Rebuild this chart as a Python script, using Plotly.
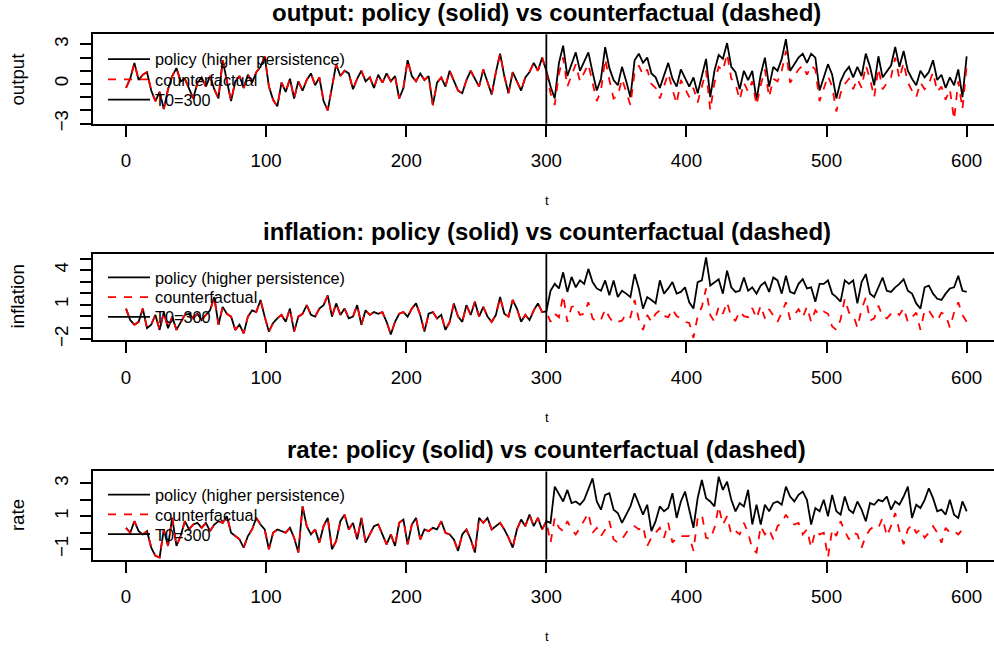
import plotly.graph_objects as go

# time index (sampled every 3 periods) and treatment date
T0 = 300
t_pre = list(range(0, 300, 3))
t_post = list(range(300, 601, 3))

# ---- output ----
output_pre = [
    -0.3, 0.4, 1.6, 0.3, 0.7, 0.9, -0.5, -1.3, -0.6, -1.9,
    -0.4, 0.6, 1.2, 0.2, 0.4, -0.3, -1.1, 0.1, 0.5, -0.2,
    0.6, -0.4, -1.1, 1.8, 0.3, -1.3, 0.2, 0.6, -0.3, 0.7,
    0.1, 0.9, 1.3, 2.1, -0.2, -1.2, -1.7, 0.1, -0.6, 0.4,
    -1.1, 0.2, -0.5, 0.3, 0.8, -0.1, 0.5, -1.3, -2.0, -0.3,
    1.5, 0.6, 1.0, 0.8, -0.4, 0.4, 1.0, 0.2, 0.5, -0.3,
    0.7, 0.1, 0.8, 0.2, 0.6, -1.1, -0.3, 1.8, 0.6, 0.2,
    0.8, 0.3, 0.6, -1.6, 0.1, 0.5, -0.2, 1.0, 0.2, -0.5,
    -0.7, 0.3, 1.0, 0.4, -0.2, 1.1, 0.2, -0.8, 0.9, 2.3,
    0.6, -0.7, 0.9, 0.2, -0.5, 0.5, 0.9, 1.6, 1.0, 2.0,
]
output_policy_post = [
    1.0, -0.2, -1.1, 1.6, 2.9, 0.6, 1.5, 2.4, 1.0, 1.7,
    2.4, 0.9, -0.5, 0.4, 2.8, 1.2, 0.3, -0.1, 1.3, 0.2,
    -1.0, 1.8, 2.3, 1.6, 2.0, 0.8, 0.5, -0.3, 0.6, 1.6,
    0.4, -0.2, 1.1, 0.5, -0.2, 0.5, -0.7, 0.6, 1.9, -1.0,
    1.0, 2.2, 1.9, 3.1, 1.3, 0.9, -0.4, 1.0, 0.3, 1.0,
    -1.2, 0.7, 2.0, -0.2, 1.3, 1.0, 1.9, 3.4, 1.0, 1.5,
    2.0, 2.3, 1.6, 2.3, 2.0, -0.5, 0.5, 1.5, 0.7, -1.1,
    0.2, 0.9, 1.3, 0.5, 1.3, 0.6, 2.3, 1.3, -0.1, 2.1,
    0.5, 1.0, 1.4, 2.8, 1.3, 2.5, 1.0, 0.4, -0.1, 1.0,
    0.5, 0.9, 1.8, 0.3, 0.7, -0.3, 0.5, -0.1, 1.1, -1.0,
    2.1,
]
output_cf_post = [
    0.9, -0.7, -1.6, 0.8, 2.0, -0.2, 0.6, 1.5, 0.2, 0.9,
    1.5, 0.1, -1.3, -0.5, 1.9, 0.3, -1.1, -0.9, 0.4, -0.6,
    -1.6, 0.9, 1.4, 0.7, 1.1, 0.0, -0.3, -1.1, -0.2, 0.8,
    -0.4, -1.5, 0.3, -0.3, -1.0, -0.3, -1.4, -0.2, 1.0, -2.0,
    0.1, 1.3, 1.0, 2.3, 0.4, 0.0, -1.2, 0.1, -0.6, 0.2,
    -1.6, -0.1, 1.1, -1.0, 0.4, 0.2, 1.0, 2.5, 0.1, 0.6,
    1.1, 1.4, 0.7, 1.4, 1.1, -1.3, -0.4, 0.6, -0.2, -2.1,
    -0.7, 0.0, 0.4, -0.4, 0.4, -0.3, 1.4, 0.4, -1.0, 1.2,
    -0.4, 0.1, 0.5, 2.0, 0.4, 1.6, 0.1, -0.5, -1.0, 0.1,
    -0.4, 0.0, 0.9, -0.6, -0.2, -1.2, -0.4, -2.7, 0.2, -1.9,
    1.4,
]

# ---- inflation ----
inflation_pre = [
    0.65, -0.35, -0.75, -0.5, 0.65, -1.05, -0.75, 0.1, -1.2, 0.35,
    -1.05, -0.05, -1.2, -0.5, 0.1, 0.2, -0.2, 0.2, -0.35, 0.1,
    0.5, 1.65, -0.75, 0.8, 0.2, -0.05, -1.2, -0.75, -1.5, -0.05,
    0.5, 0.35, 1.4, -0.05, -1.35, -0.6, -0.2, 0.1, -0.5, 0.65,
    -1.35, -0.05, 0.2, 0.95, 0.1, -0.05, 0.65, 0.95, 1.8, -0.05,
    1.1, 0.1, 0.65, -0.2, -0.05, 0.95, -0.75, 0.5, 0.1, 0.35,
    0.2, 0.35, -0.5, -1.6, -0.5, 0.2, 0.35, -0.05, 0.65, 1.1,
    0.1, -1.35, 0.2, 0.35, -0.2, 0.1, -1.2, -0.5, 1.1, -0.05,
    -0.5, 0.95, 0.1, 1.25, -0.05, 0.8, -0.05, -0.5, 0.1, 1.65,
    0.2, -0.05, 1.4, 0.65, -0.5, 0.1, -0.35, 0.5, 1.1, 0.35,
]
inflation_policy_post = [
    0.4, 2.2, 2.8, 2.4, 3.8, 2.1, 3.4, 2.5, 3.1, 2.8,
    4.1, 2.95, 2.4, 2.2, 3.1, 1.8, 3.1, 1.65, 2.2, 1.95,
    1.65, 3.65, 2.4, 0.65, 1.65, 1.4, 1.1, 3.1, 1.95, 2.4,
    2.95, 1.95, 2.1, 2.5, 1.2, 0.65, 2.95, 3.1, 5.1, 2.65,
    2.95, 3.2, 1.95, 3.95, 2.5, 2.1, 2.2, 3.35, 2.2, 2.5,
    1.95, 2.65, 2.95, 2.1, 3.35, 3.1, 1.95, 3.5, 2.1, 1.95,
    2.8, 3.2, 2.4, 2.5, 1.25, 2.8, 2.8, 3.1, 1.95, 1.65,
    1.25, 3.1, 2.8, 3.1, 1.1, 2.95, 3.65, 1.95, 1.65, 2.5,
    3.35, 2.2, 2.1, 2.5, 2.8, 3.2, 2.2, 1.95, 1.1, 0.65,
    2.5, 2.65, 1.95, 1.5, 1.4, 1.95, 2.4, 2.5, 3.5, 2.2,
    2.1,
]
inflation_cf_post = [
    0.4, -0.5, 0.2, -0.1, 1.8, -0.5, 0.8, 0.9, 0.1, 0.2,
    1.2, -0.2, -0.5, -0.3, 0.6, -0.1, -0.6, -0.5, -0.4, 0.2,
    -0.1, 1.4, -0.3, -1.2, 0.1, -0.5, 0.2, 0.5, 0.0, -0.1,
    0.6, 0.0, -0.2, -0.5, -0.6, -1.9, 0.0, 0.8, 2.4, 0.1,
    -0.5, 0.8, 0.2, 1.2, -0.1, -0.4, 0.4, 0.0, -0.1, 0.7,
    -0.2, 0.9, -0.2, 0.6, 0.0, -0.5, 0.3, 1.2, -0.3, 0.1,
    0.6, -0.1, 0.8, -0.5, 0.5, 0.1, 0.4, 0.2, -0.9, -1.2,
    -0.3, 1.5, 0.3, 0.1, -1.0, 0.6, 1.6, -0.4, -0.2, 0.9,
    0.0, -0.2, 0.2, 0.4, 0.1, 0.7, -0.5, -0.1, 0.3, -1.2,
    0.5, 0.5, -0.1, -0.4, 0.3, 0.1, -1.0, 0.3, 1.2, 0.1,
    -0.5,
]

# ---- rate ----
rate_pre = [
    0.3, 0.0, 0.7, 0.1, -0.1, 0.1, -0.9, -1.4, -1.5, 0.2,
    -0.8, 0.9, -0.8, -0.2, 0.7, 0.2, 0.5, 0.6, 0.3, 0.6,
    0.1, 0.5, 0.7, 0.6, 1.0, 0.0, -0.2, -0.4, -0.9, -0.2,
    0.2, 0.9, 0.5, 0.2, -1.0, 0.0, 0.2, 0.1, 0.0, 0.3,
    -0.3, -1.2, 1.6, 0.4, -0.1, 0.2, -0.6, 0.4, 0.9, -1.0,
    -0.5, 0.7, 1.1, 0.2, 0.6, -0.4, 0.9, -0.6, -0.1, 0.4,
    0.5, -0.1, -0.7, -0.1, -0.8, 0.6, 0.8, -0.7, 0.5, 0.9,
    -0.4, 0.2, 0.1, 0.3, 0.2, 0.7, 0.0, -0.1, -0.4, -1.1,
    -0.1, 0.2, -0.4, -1.2, 0.9, 0.6, 0.9, 0.2, 0.4, 0.6,
    0.2, -0.3, -0.9, 0.2, 0.8, 0.4, 1.1, 0.4, 0.9, 0.2,
]
rate_policy_post = [
    0.7, 0.6, 2.8, 2.3, 1.9, 2.6, 1.8, 1.9, 1.7, 2.0,
    2.7, 3.3, 1.9, 1.4, 2.3, 2.4, 1.4, 1.2, 0.6, 1.1,
    1.6, 2.4, 1.7, 1.1, 1.7, 0.1, 0.7, 1.6, 1.3, 1.5,
    2.4, 0.9, 1.9, 2.5, 1.4, 0.3, 2.1, 3.2, 2.1, 1.9,
    1.6, 3.4, 2.6, 3.1, 2.0, 1.3, 1.8, 1.6, 2.6, 0.5,
    1.7, 0.5, 1.7, 1.3, 1.8, 1.9, 1.7, 2.8, 2.2, 1.9,
    2.3, 2.5, 2.0, 0.5, 1.5, 1.3, 2.0, 1.0, 2.3, 1.3,
    1.1, 2.2, 1.4, 1.2, 1.9, 1.4, 0.7, 1.8, 1.7, 2.0,
    1.9, 2.2, 1.4, 1.9, 1.7, 2.2, 2.8, 0.9, 1.7, 1.5,
    2.0, 2.7, 2.1, 1.3, 1.4, 1.1, 2.0, 1.1, 0.9, 1.9,
    1.3,
]
rate_cf_post = [
    0.7, -0.6, 0.9, 0.3, 0.1, 0.7, 0.2, -0.1, 0.3, 0.8,
    1.2, 0.0, 0.3, -0.2, 0.2, 0.7, -0.4, -0.6, -0.4, 0.0,
    0.3, 0.4, 0.2, 0.4, -0.8, -0.3, 0.0, 0.3, -0.3, 0.6,
    -0.6, -0.3, -0.2, -0.2, -0.2, -1.1, 0.9, 1.1, -0.3, -0.4,
    0.3, 1.6, 0.5, 1.0, -0.1, 0.1, -0.1, 0.6, 0.0, -1.0,
    -1.2, 0.4, -0.1, 0.2, -0.4, 0.4, 0.6, 1.1, 0.7, 0.5,
    0.6, -0.1, 0.2, -0.9, 0.1, -0.1, 0.0, -1.5, 0.2, -0.2,
    0.7, 0.1, -0.4, 0.0, -0.1, -0.9, -0.2, 0.2, 0.4, 0.3,
    0.9, -0.2, 0.4, 1.2, 0.1, -0.7, 0.2, 0.5, 0.0, 0.2,
    -0.3, 0.0, 0.4, 0.0, -0.6, 0.3, 0.0, 0.1, -0.1, 0.2,
    0.0,
]

# axis labelling
x_ticks = [0, 100, 200, 300, 400, 500, 600]
output_yticks = [-3, -2, -1, 0, 1, 2, 3]
output_ylabels = ["\u22123", "", "", "0", "", "", "3"]
inflation_yticks = [-2, -1, 0, 1, 2, 3, 4, 5]
inflation_ylabels = ["\u22122", "", "", "1", "", "", "4", ""]
rate_yticks = [-1, 0, 1, 2, 3]
rate_ylabels = ["\u22121", "", "1", "", "3"]
legend_names = ["policy (higher persistence)", "counterfactual", "T0=%d" % T0]

panels = [
    dict(name="output", pre=output_pre, pol=output_policy_post, cf=output_cf_post,
         yr=[-3.02, 3.77], ticks=output_yticks, labels=output_ylabels,
         box=(34.7, 125.3), rows=(56, 76.5, 97)),
    dict(name="inflation", pre=inflation_pre, pol=inflation_policy_post, cf=inflation_cf_post,
         yr=[-2.12, 5.43], ticks=inflation_yticks, labels=inflation_ylabels,
         box=(256.7, 344.7), rows=(277, 297, 317)),
    dict(name="rate", pre=rate_pre, pol=rate_policy_post, cf=rate_cf_post,
         yr=[-1.64, 3.72], ticks=rate_yticks, labels=rate_ylabels,
         box=(477.3, 566.7), rows=(497, 517, 537)),
]

W, H = 994, 654
FONT = "Liberation Sans, Arial, Helvetica, sans-serif"
LW = 1.8
X_LEFT = 93
X_RANGE = [-23.55, 619.5]
LEGEND_ROW_OFFSET = 13.5  # distance from legend top to the centre of its single row


def py(v):
    return 1 - v / H


def legend_id(k):
    return "legend" if k == 1 else "legend%d" % k


fig = go.Figure()
annotations = []
layout = {}

for i, p in enumerate(panels):
    n = "" if i == 0 else str(i + 1)
    xa, ya = "x" + n, "y" + n
    legs = [legend_id(3 * i + j + 1) for j in range(3)]
    t = t_pre + t_post
    policy = p["pre"] + p["pol"]
    counterfactual = p["pre"] + p["cf"]

    fig.add_trace(go.Scatter(
        x=t, y=policy, mode="lines", name=legend_names[0], showlegend=True,
        line=dict(color="black", width=LW), xaxis=xa, yaxis=ya, legend=legs[0]))
    fig.add_trace(go.Scatter(
        x=t, y=counterfactual, mode="lines", name=legend_names[1], showlegend=True,
        line=dict(color="red", width=LW, dash="8px,8px"), xaxis=xa, yaxis=ya,
        legend=legs[1]))
    fig.add_shape(type="line", xref=xa, yref=ya + " domain", x0=T0, x1=T0, y0=0, y1=1,
                  line=dict(color="black", width=LW), showlegend=True,
                  name=legend_names[2], legend=legs[2])

    top, bot = p["box"]
    layout["xaxis" + n] = dict(
        domain=[X_LEFT / W, 1], range=X_RANGE, anchor=ya,
        tickvals=x_ticks, ticktext=[str(v) for v in x_ticks],
        ticks="outside", ticklen=11, tickwidth=LW, tickcolor="black",
        showline=True, linewidth=LW, linecolor="black", mirror=True,
        showgrid=False, zeroline=False, ticklabelstandoff=8,
        tickfont=dict(family=FONT, size=18.7, color="black"))
    layout["yaxis" + n] = dict(
        domain=[py(bot), py(top)], range=p["yr"], anchor=xa,
        tickvals=p["ticks"], ticktext=p["labels"], tickangle=-90,
        ticks="outside", ticklen=11, tickwidth=LW, tickcolor="black",
        showline=True, linewidth=LW, linecolor="black", mirror=False,
        showgrid=False, zeroline=False, ticklabelstandoff=5,
        tickfont=dict(family=FONT, size=18.7, color="black"))
    for leg, row in zip(legs, p["rows"]):
        layout[leg] = dict(
            x=103 / W, y=py(row - LEGEND_ROW_OFFSET), xanchor="left", yanchor="top",
            bgcolor="rgba(0,0,0,0)", borderwidth=0, itemwidth=42,
            font=dict(family=FONT, size=16.3, color="black"))

    mid = (X_LEFT + 1000) / 2
    annotations.append(dict(
        text="<b>%s: policy (solid) vs counterfactual (dashed)</b>" % p["name"],
        x=mid / W, y=py(top - 22), xref="paper", yref="paper",
        xanchor="center", yanchor="middle", showarrow=False,
        font=dict(family=FONT, size=24, color="black")))
    annotations.append(dict(
        text=p["name"], x=17.5 / W, y=py((top + bot) / 2), xref="paper", yref="paper",
        xanchor="center", yanchor="middle", textangle=-90, showarrow=False,
        font=dict(family=FONT, size=18.7, color="black")))
    annotations.append(dict(
        text="t", x=mid / W, y=py(bot + 78), xref="paper", yref="paper",
        xanchor="center", yanchor="middle", showarrow=False,
        font=dict(family=FONT, size=13, color="black")))

fig.update_layout(
    width=W, height=H, autosize=False, showlegend=True,
    margin=dict(l=0, r=0, t=0, b=0),
    paper_bgcolor="white", plot_bgcolor="white",
    annotations=annotations, **layout)

fig.write_html("out.html")
